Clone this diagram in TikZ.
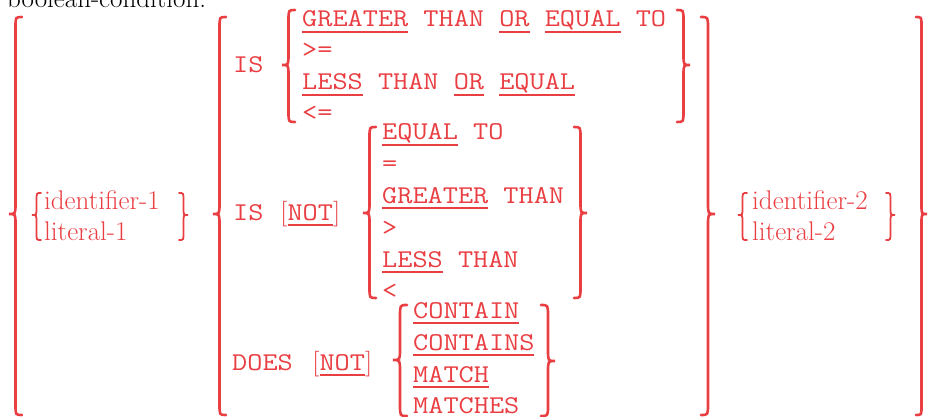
\documentclass[tikz,border=0pt]{standalone}
\usepackage{graphicx}
\usepackage{tikz}

\definecolor{cobol}{RGB}{233,62,66}
% underlined keyword
\newcommand{\kw}[1]{\setbox0\hbox{#1}\rlap{\rule[-6pt]{\wd0}{2.2pt}}\box0\relax}
\newcommand{\tw}[1]{\scalebox{1.15}[1]{#1}}
% braces: tip x, top y, tip y, bottom y, depth
\newcommand{\bracel}[6][]{%
  \draw[brc,#1] (#2+2*#6,#3) .. controls (#2+#6,#3) .. (#2+#6,#3+1.6*#6)
    -- (#2+#6,#4-1.6*#6) .. controls (#2+#6,#4) .. (#2,#4)
    .. controls (#2+#6,#4) .. (#2+#6,#4+1.6*#6)
    -- (#2+#6,#5-1.6*#6) .. controls (#2+#6,#5) .. (#2+2*#6,#5);}
\newcommand{\bracer}[6][]{%
  \draw[brc,#1] (#2-2*#6,#3) .. controls (#2-#6,#3) .. (#2-#6,#3+1.6*#6)
    -- (#2-#6,#4-1.6*#6) .. controls (#2-#6,#4) .. (#2,#4)
    .. controls (#2-#6,#4) .. (#2-#6,#4+1.6*#6)
    -- (#2-#6,#5-1.6*#6) .. controls (#2-#6,#5) .. (#2-2*#6,#5);}

\begin{document}
\begin{tikzpicture}[x=1pt, y=-1pt, line cap=round,
    brc/.style={draw=cobol, line width=2.6pt},
    smallbrc/.style={line width=1.8pt},
    word/.style={anchor=base west, inner sep=0pt, text=cobol, font=\fontsize{27}{32}\selectfont},
    kwtext/.style={anchor=base west, inner sep=0pt, text=cobol, font=\ttfamily\fontsize{25.6}{30}\selectfont}]
    \useasboundingbox (0,0) rectangle (929,417);

    \node[anchor=base west, inner sep=0pt, font=\fontsize{27}{32}\selectfont] (title) at (7,8) {boolean-condition:};

    % outer braces
    \bracel{9}{17}{214}{415}{6.5}
    \bracer{927}{17}{214}{415}{5.5}

    % left operand
    \bracel[smallbrc]{32}{193}{215}{240}{4.5}
    \node[word] (id1) at (44,209) {identifier-1};
    \node[word] (lit1) at (44,240) {literal-1};
    \bracer[smallbrc]{188}{193}{215}{240}{4.5}

    % operators
    \bracel{213}{17}{214}{415}{6.5}

    \node[kwtext] (is1) at (233,73) {\tw{IS}};
    \bracel{282}{10}{65}{122}{6.5}
    \node[kwtext] (ge) at (302,27) {\tw{\kw{GREATER} THAN \kw{OR} \kw{EQUAL} TO}};
    \node[kwtext] (gesym) at (302,58) {\tw{>=}};
    \node[kwtext] (le) at (302,90) {\tw{\kw{LESS} THAN \kw{OR} \kw{EQUAL}}};
    \node[kwtext] (lesym) at (302,121) {\tw{<=}};
    \bracer{690}{10}{65}{122}{6.5}

    \node[kwtext] (is2) at (233,220) {\tw{IS}};
    \node[kwtext] (not1) at (280,220) {\tw{\textrm{[}\kw{NOT}\textrm{]}}};
    \bracel{363}{127}{213}{298}{6.5}
    \node[kwtext] (eq) at (382,140) {\tw{\kw{EQUAL} TO}};
    \node[kwtext] (eqsym) at (382,171.5) {\tw{=}};
    \node[kwtext] (gt) at (382,203) {\tw{\kw{GREATER} THAN}};
    \node[kwtext] (gtsym) at (382,235) {\tw{>}};
    \node[kwtext] (lt) at (382,267) {\tw{\kw{LESS} THAN}};
    \node[kwtext] (ltsym) at (382,298) {\tw{<}};
    \bracer{587}{127}{213}{298}{6.5}

    \node[kwtext] (does) at (232,370) {\tw{DOES}};
    \node[kwtext] (not2) at (312,370) {\tw{\textrm{[}\kw{NOT}\textrm{]}}};
    \bracel{393}{305}{360}{416}{7}
    \node[kwtext] (cont) at (413,318) {\tw{\kw{CONTAIN}}};
    \node[kwtext] (conts) at (413,350) {\tw{\kw{CONTAINS}}};
    \node[kwtext] (match) at (413,382) {\tw{\kw{MATCH}}};
    \node[kwtext] (matches) at (413,413) {\tw{\kw{MATCHES}}};
    \bracer{555}{305}{361}{416}{7}

    \bracer{715}{17}{214}{415}{7}

    % right operand
    \bracel[smallbrc]{738}{193}{215}{240}{4.5}
    \node[word] (id2) at (752,209) {identifier-2};
    \node[word] (lit2) at (752,240) {literal-2};
    \bracer[smallbrc]{895}{193}{215}{240}{4.5}
\end{tikzpicture}
\end{document}
